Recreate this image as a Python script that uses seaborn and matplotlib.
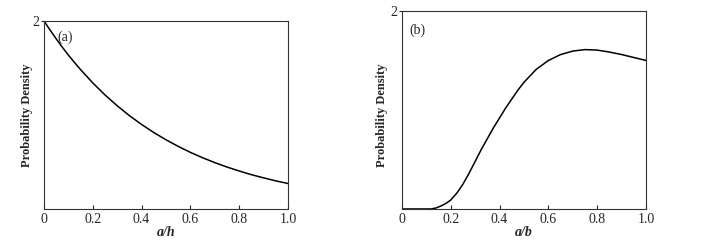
import seaborn as sns
import numpy as np
import pandas as pd
import matplotlib.pyplot as plt

# values
a_h = [0, 0.025, 0.05, 0.075, 0.1, 0.125, 0.15, 0.2, 0.25, 0.3, 0.35, 0.4, 0.45, 0.5,
       0.55, 0.6, 0.65, 0.7, 0.75, 0.8, 0.85, 0.9, 0.95, 1.0]
dens_a = [2.0, 1.903, 1.810, 1.721, 1.637, 1.558, 1.482, 1.341, 1.213, 1.098, 0.993,
          0.899, 0.813, 0.736, 0.666, 0.602, 0.545, 0.493, 0.446, 0.404, 0.365,
          0.331, 0.299, 0.271]

a_b = [0, 0.1, 0.12, 0.14, 0.16, 0.18, 0.2, 0.225, 0.25, 0.275, 0.3, 0.325, 0.35,
       0.375, 0.4, 0.425, 0.45, 0.475, 0.5, 0.55, 0.6, 0.65, 0.7, 0.75, 0.8, 0.85,
       0.9, 0.95, 1.0]
dens_b = [0, 0, 0, 0.01, 0.03, 0.055, 0.09, 0.16, 0.25, 0.36, 0.48, 0.60, 0.71,
          0.82, 0.92, 1.02, 1.11, 1.20, 1.28, 1.41, 1.50, 1.56, 1.595, 1.61, 1.605,
          1.585, 1.56, 1.53, 1.50]

sns.set_style("ticks")
plt.rcParams['font.family'] = ['Liberation Serif', 'DejaVu Serif']

fig = plt.figure(figsize=(7.1, 2.47), dpi=100)
ax1 = fig.add_axes([0.062, 0.154, 0.3436, 0.761])
ax2 = fig.add_axes([0.566, 0.154, 0.344, 0.8015])

df_a = pd.DataFrame({"x": a_h, "y": dens_a})
df_b = pd.DataFrame({"x": a_b, "y": dens_b})

panels = [(ax1, df_a, "a/h", "(a)", (0.055, 0.95), (-0.045, 0.5)),
          (ax2, df_b, "a/b", "(b)", (0.03, 0.935), (-0.055, 0.475))]

for ax, df, xl, tag, pos, lpos in panels:
    sns.lineplot(data=df, x="x", y="y", ax=ax, color="black", linewidth=1.1)
    ax.set_xlim(0, 1.0)
    ax.set_ylim(0, 2)
    ax.set_xticks([0, 0.2, 0.4, 0.6, 0.8, 1.0])
    ax.set_xticklabels(["0", "0.2", "0.4", "0.6", "0.8", "1.0"])
    ax.set_yticks([2])
    ax.set_yticklabels(["2"])
    ax.tick_params(axis="x", direction="in", length=3, width=0.8, pad=3, labelsize=10)
    ax.tick_params(axis="y", direction="out", length=2, width=0.8, pad=1, labelsize=10)
    for s in ax.spines.values():
        s.set_linewidth(0.8)
        s.set_color("#333333")
    ax.set_xlabel(xl, fontweight="bold", fontstyle="italic", fontsize=10, labelpad=0)
    ax.set_ylabel("Probability Density", fontweight="bold", fontsize=9)
    ax.yaxis.set_label_coords(*lpos)
    ax.text(pos[0], pos[1], tag, transform=ax.transAxes, fontsize=10, va="top")

fig.savefig("out.png", dpi=100, facecolor="white")
